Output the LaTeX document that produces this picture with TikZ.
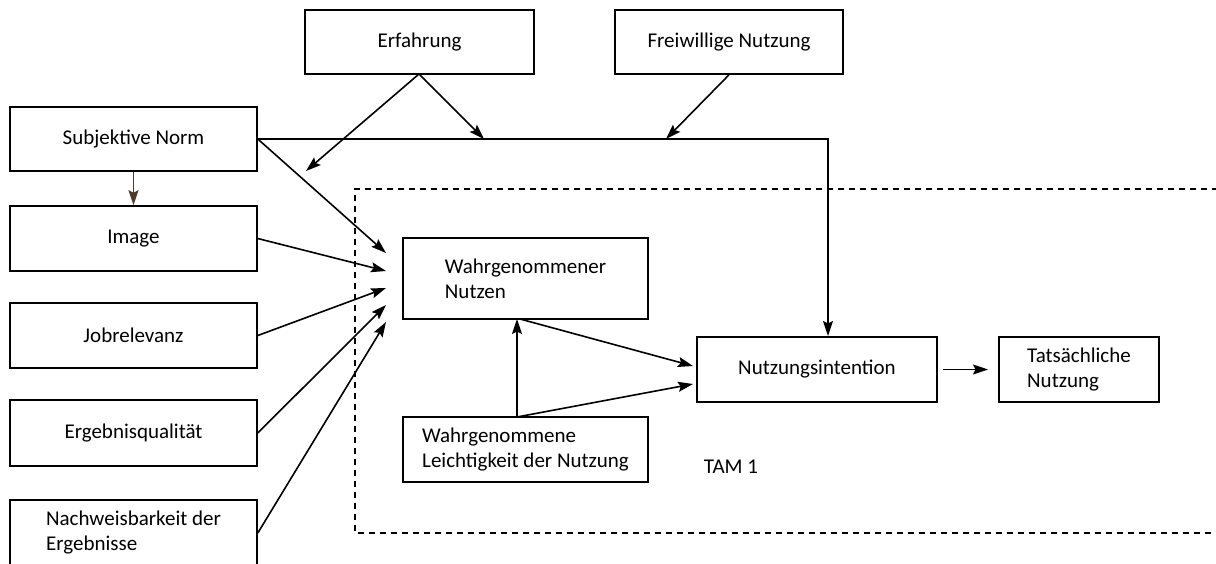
\documentclass[tikz,border=0pt]{standalone}
\usepackage{fontspec}
\setmainfont{Carlito}
\usetikzlibrary{arrows.meta}
\definecolor{brownarr}{RGB}{80,58,42}
\begin{document}
\begin{tikzpicture}[x=1pt,y=-1pt,
  box/.style={draw, line width=1.6pt, inner sep=0pt, align=left, font=\fontsize{21}{25}\selectfont},
  arr/.style={line width=1.6pt, -{Stealth[length=15pt,width=10pt,inset=2.5pt]}},
  dashbox/.style={line width=1.5pt, dash pattern=on 6pt off 5pt}]
\useasboundingbox (0,0) rectangle (1216,563);
\clip (0,0) rectangle (1216,563);
% dashed TAM 1 frame
\draw[dashbox] (1240,189) -- (355,189) -- (355,533) -- (1240,533);
\node[font=\fontsize{21}{25}\selectfont] (tam) at (731,467) {TAM 1};
% boxes
\node[box, minimum width=229pt, minimum height=64pt] (erf) at (419.5,42) {Erfahrung};
\node[box, minimum width=228pt, minimum height=64pt] (frw) at (729,42) {Freiwillige Nutzung};
\node[box, minimum width=247pt, minimum height=64pt] (sn) at (133.5,139) {Subjektive Norm};
\node[box, minimum width=247pt, minimum height=65pt] (img) at (133.5,238.5) {Image};
\node[box, minimum width=247pt, minimum height=65pt] (job) at (133.5,335.5) {Jobrelevanz};
\node[box, minimum width=247pt, minimum height=66pt] (erg) at (133.5,433) {Ergebnisqualität};
\node[box, minimum width=247pt, minimum height=66pt] (nach) at (133.5,533) {Nachweisbarkeit der\\Ergebnisse};
\node[box, minimum width=245pt, minimum height=81pt] (wn) at (525.5,278.5) {Wahrgenommener\\Nutzen};
\node[box, minimum width=245pt, minimum height=65pt] (wl) at (525.5,449.5) {Wahrgenommene\\Leichtigkeit der Nutzung};
\node[box, minimum width=240pt, minimum height=65pt] (ni) at (817,369.5) {Nutzungsintention};
\node[box, minimum width=160pt, minimum height=65pt] (tn) at (1079,369.5) {Tatsächliche\\Nutzung};
% free-end coordinates
\coordinate (erfs) at (419,74);
\coordinate (erfL) at (306,171);
\coordinate (erfR) at (484,139);
\coordinate (frwE) at (666,139);
\coordinate (corner) at (828,139);
\coordinate (niTop) at (828,336);
\coordinate (t1) at (386,253);
\coordinate (t2) at (386,271);
\coordinate (t3) at (386,288);
\coordinate (t4) at (386,305);
\coordinate (t5) at (386,322);
\coordinate (wnB) at (517,319);
\coordinate (wlT) at (517,417);
\coordinate (wnB2) at (520,319);
\coordinate (niL1) at (693,366);
\coordinate (niL2) at (693,384);
\coordinate (niR) at (943,369.5);
\coordinate (tnL) at (988,369.5);
% connectors
\draw[arr, draw=brownarr, fill=brownarr] (sn.south) -- (img.north);
\draw[arr] (sn.east) -- (corner) -- (niTop);
\draw[arr] (erfs) -- (erfL);
\draw[arr] (erfs) -- (erfR);
\draw[arr] (frw.south) -- (frwE);
\draw[arr] (sn.east) -- (t1);
\draw[arr] (img.east) -- (t2);
\draw[arr] (job.east) -- (t3);
\draw[arr] (erg.east) -- (t4);
\draw[arr] (nach.east) -- (t5);
\draw[arr] (wnB2) -- (niL1);
\draw[arr] (wlT) -- (wnB);
\draw[arr] (wlT) -- (niL2);
\draw[arr] (niR) -- (tnL);
\end{tikzpicture}
\end{document}
